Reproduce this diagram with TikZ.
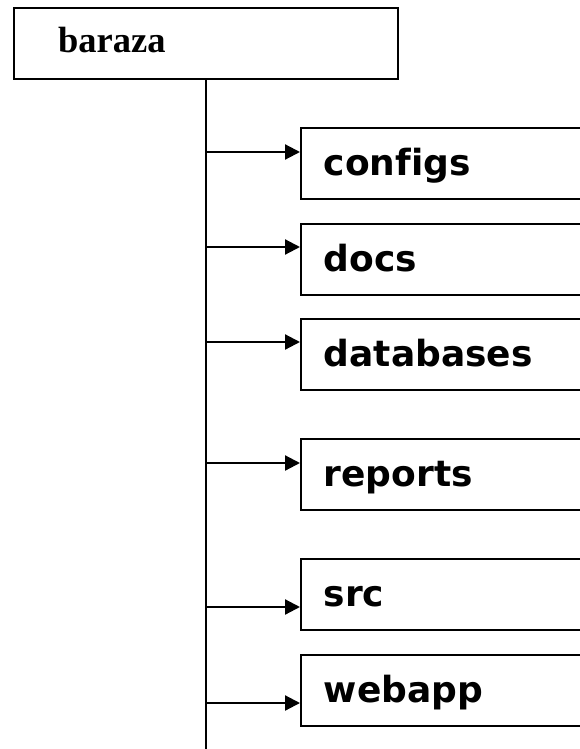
\documentclass[tikz,border=0pt]{standalone}
\usepackage{fontspec}
\setmainfont{Liberation Serif}
\newfontfamily\dirfont[Ligatures=NoCommon]{DejaVu Sans}
\usetikzlibrary{arrows.meta}

\begin{document}
\begin{tikzpicture}[x=1pt,y=-1pt,
  rootbox/.style={draw,line width=2.2pt,rectangle,anchor=north west,
    minimum width=384pt,minimum height=71.3pt,inner xsep=0pt,inner ysep=0pt},
  dirbox/.style={draw,line width=2.2pt,rectangle,anchor=north west,
    text width=300pt,align=left,inner xsep=22.7pt,inner ysep=15pt,
    text height=32.5pt,text depth=8.5pt,
    font=\dirfont\fontsize{36}{36}\selectfont\bfseries},
  link/.style={line width=2.2pt,-{Triangle[length=15pt,width=15pt]}},
  trunkline/.style={line width=2.2pt}]
\useasboundingbox (0,0) rectangle (580,749);
\clip (0,0) rectangle (580,749);

% top-level folder
\node[rootbox] (root) at (12.7,6.7) {};
\node[anchor=base west,inner sep=0pt,font=\fontsize{36.5}{36}\selectfont\bfseries]
  (rootlabel) at (58,53) {baraza};

% sub-folders
\node[dirbox] (cfg)  at (300,127) {configs};
\node[dirbox] (docs) at (300,223) {docs};
\node[dirbox] (dbs)  at (300,318) {databases};
\node[dirbox] (rep)  at (300,438) {reports};
\node[dirbox] (src)  at (300,558) {src};
\node[dirbox] (web)  at (300,654) {webapp};

% trunk line
\coordinate (trunkend) at (205.7,749);
\draw[trunkline] (root.south -| trunkend) -- (trunkend);

% branch points on the trunk
\coordinate (b1) at (205.7,152);
\coordinate (b2) at (205.7,247);
\coordinate (b3) at (205.7,342);
\coordinate (b4) at (205.7,463);
\coordinate (b5) at (205.7,607);
\coordinate (b6) at (205.7,703);

\draw[link] (b1) -- (b1 -| cfg.west);
\draw[link] (b2) -- (b2 -| docs.west);
\draw[link] (b3) -- (b3 -| dbs.west);
\draw[link] (b4) -- (b4 -| rep.west);
\draw[link] (b5) -- (b5 -| src.west);
\draw[link] (b6) -- (b6 -| web.west);
\end{tikzpicture}
\end{document}
